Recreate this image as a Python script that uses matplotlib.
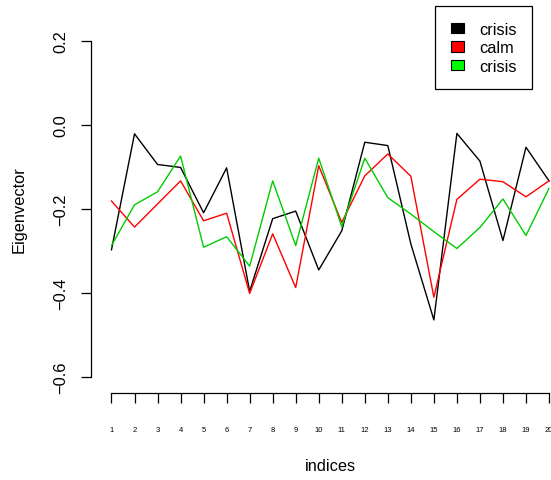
import matplotlib
matplotlib.use("Agg")
import matplotlib.pyplot as plt
from matplotlib.patches import Patch
import numpy as np

plt.rcParams['font.family'] = ['Liberation Sans', 'DejaVu Sans']

indices = np.arange(1, 21)
crisis_a = [-0.297, -0.021, -0.094, -0.101, -0.209, -0.102, -0.396, -0.223, -0.205, -0.345,
            -0.252, -0.041, -0.049, -0.283, -0.464, -0.020, -0.086, -0.275, -0.053, -0.133]
calm = [-0.181, -0.243, -0.188, -0.133, -0.228, -0.210, -0.401, -0.259, -0.387, -0.097,
        -0.232, -0.121, -0.069, -0.122, -0.410, -0.177, -0.129, -0.135, -0.171, -0.133]
crisis_b = [-0.287, -0.190, -0.159, -0.074, -0.291, -0.266, -0.336, -0.133, -0.287, -0.079,
            -0.242, -0.079, -0.173, -0.212, -0.254, -0.294, -0.244, -0.176, -0.263, -0.151]
yticks = [-0.6, -0.4, -0.2, 0.0, 0.2]
legend_labels = ['crisis', 'calm', 'crisis']

W, H = 551, 481
fig = plt.figure(figsize=(W / 100, H / 100), dpi=100)
# plot region in pixels: left 91, right 551, top 28, bottom 394
ax = fig.add_axes([91 / W, (H - 394) / H, (W - 91) / W, (394 - 28) / H])

ax.plot(indices, crisis_a, color='black', lw=1.0)
ax.plot(indices, calm, color='#FF0000', lw=1.0)
ax.plot(indices, crisis_b, color='#00CD00', lw=1.0)

ax.set_xlim(0.11, 20.087)
ax.set_ylim(-0.638, 0.2333)

for s in ['top', 'right']:
    ax.spines[s].set_visible(False)
ax.spines['left'].set_bounds(-0.6, 0.2)
ax.spines['bottom'].set_bounds(1, 20)
ax.spines['left'].set_linewidth(0.9)
ax.spines['bottom'].set_linewidth(0.9)

ax.set_xticks(indices)
ax.set_xticklabels([str(i) for i in indices], fontsize=5.5)
ax.set_yticks(yticks)
ax.set_yticklabels(['−0.6', '−0.4', '−0.2', '0.0', '0.2'], fontsize=11.8,
                   rotation=90, va='center')
ax.tick_params(axis='x', length=7.5, width=0.9, pad=16)
ax.tick_params(axis='y', length=7.0, width=0.9, pad=9.5)

fig.text(19 / W, 1 - 210 / H, 'Eigenvector', rotation=90, ha='center', va='center',
         fontsize=11.8)
fig.text(330.5 / W, 1 - 466.5 / H, 'indices', ha='center', va='center', fontsize=11.8)

handles = [Patch(facecolor=c, edgecolor='black', lw=0.8)
           for c in ['black', '#FF0000', '#00FF00']]
leg = ax.legend(handles, legend_labels, loc='upper left',
                bbox_to_anchor=(435 / W, 1 - 7 / H), bbox_transform=fig.transFigure,
                fontsize=11.8, frameon=True, fancybox=False, edgecolor='black',
                framealpha=1, borderaxespad=0, borderpad=0.95, handlelength=0.8,
                handleheight=0.6, handletextpad=0.95, labelspacing=0.22)
leg.get_frame().set_linewidth(0.9)

fig.savefig('out.png', dpi=100)
